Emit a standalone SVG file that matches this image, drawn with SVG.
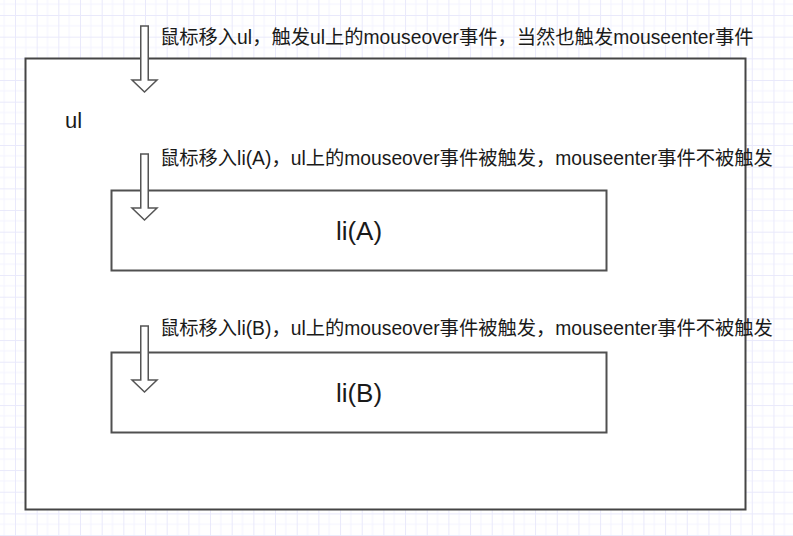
<svg xmlns="http://www.w3.org/2000/svg" width="793" height="536" viewBox="0 0 793 536">
  <style>
    .box { fill: #ffffff; stroke: #454545; stroke-width: 2; }
    .inner { fill: #ffffff; stroke: #505050; stroke-width: 2; }
    .arrow { fill: #ffffff; stroke: #555555; stroke-width: 1.5; stroke-linejoin: miter; }
    .note { font-family: "Liberation Sans", "Noto Sans CJK SC", sans-serif; font-size: 19.3px; fill: #1a1a1a; }
    .label { font-family: "Liberation Sans", "Noto Sans CJK SC", sans-serif; fill: #1a1a1a; }
  </style>
  <defs>
    <pattern id="grid" x="15" y="15" width="21.67" height="21.67" patternUnits="userSpaceOnUse">
      <path d="M10.83 0 V21.67 M0 10.83 H21.67" stroke="#f3f3ff" stroke-width="1" fill="none"/>
      <path d="M0.5 0 V21.67 M0 0.5 H21.67" stroke="#e9e9fb" stroke-width="1" fill="none"/>
    </pattern>
    <path id="blockArrow" d="M-3.75 0 H3.75 V54 H12.5 L0 66 L-12.5 54 H-3.75 Z"/>
  </defs>
  <rect width="793" height="536" fill="#ffffff"/>
  <rect width="793" height="536" fill="url(#grid)"/>

  <g id="ul">
    <rect class="box" x="25.5" y="58.5" width="720" height="451"/>
    <text class="label" x="65" y="128" font-size="22">ul</text>
  </g>

  <g id="liA">
    <rect class="inner" x="111.5" y="190.5" width="495" height="80"/>
    <text class="label" x="359" y="240" font-size="26" text-anchor="middle">li(A)</text>
  </g>

  <g id="liB">
    <rect class="inner" x="111.5" y="352.5" width="495" height="80"/>
    <text class="label" x="359" y="402" font-size="26" text-anchor="middle">li(B)</text>
  </g>

  <g id="connectors">
    <use href="#blockArrow" class="arrow" transform="translate(144.5,26)"/>
    <use href="#blockArrow" class="arrow" transform="translate(144.5,154)"/>
    <use href="#blockArrow" class="arrow" transform="translate(144.5,326)"/>
  </g>

  <g id="notes">
    <text class="note" x="160" y="44">鼠标移入ul，触发ul上的mouseover事件，当然也触发mouseenter事件</text>
    <text class="note" x="160" y="165">鼠标移入li(A)，ul上的mouseover事件被触发，mouseenter事件不被触发</text>
    <text class="note" x="160" y="335">鼠标移入li(B)，ul上的mouseover事件被触发，mouseenter事件不被触发</text>
  </g>
</svg>
